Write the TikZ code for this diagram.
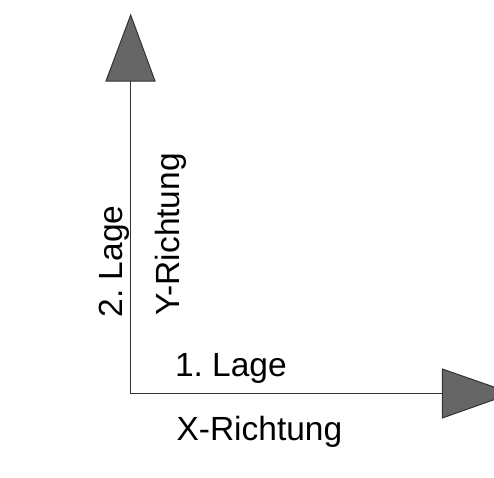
\documentclass[tikz,border=0pt]{standalone}
\usepackage{fontspec}
\setmainfont{Liberation Sans}
\frenchspacing
\definecolor{headfill}{HTML}{666666}
\definecolor{linegray}{HTML}{333333}
\begin{document}
\begin{tikzpicture}[x=1pt,y=-1pt,
  axis/.style={draw=linegray,line width=1pt},
  head/.style={draw=linegray,line width=1pt,fill=headfill,line join=miter},
  lbl/.style={inner sep=0pt,font=\fontsize{33.5}{40}\selectfont\frenchspacing,text=black}]
\useasboundingbox (0,0) rectangle (494,477);
\coordinate (O) at (130,393.3);
\coordinate (Ybase) at (130,81);
\coordinate (Xbase) at (442.3,393.3);
\draw[axis] (O) -- (Ybase);
\draw[axis] (O) -- (Xbase);
\draw[head] (106,81) -- (130.7,15) -- (155,81) -- cycle;
\draw[head] (442.3,369) -- (512,393.3) -- (442.3,418) -- cycle;
\node[lbl,anchor=base west] (l1) at (174.8,376.7) {1. Lage};
\node[lbl,anchor=base west] (xr) at (176.3,440) {X-Richtung};
\node[lbl,anchor=base west,rotate=90] (l2) at (122.7,317.5) {2. Lage};
\node[lbl,anchor=base west,rotate=90] (yr) at (179.3,316) {Y-Richtung};
\end{tikzpicture}
\end{document}
